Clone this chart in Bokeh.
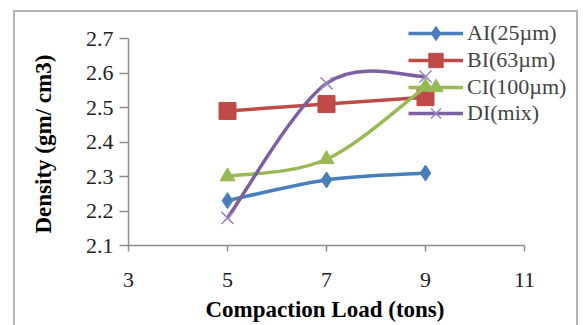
from bokeh.plotting import figure
from bokeh.models import (Range1d, FixedTicker, Legend, LegendItem, InlineStyleSheet, Title)
from bokeh.embed import file_html
from bokeh.resources import INLINE

loads = [5, 7, 9]
series_names = ["AI(25µm)", "BI(63µm)", "CI(100µm)", "DI(mix)"]
ai = [2.23, 2.29, 2.31]
bi = [2.49, 2.51, 2.53]
ci = [2.30, 2.35, 2.56]
di = [2.18, 2.57, 2.59]
x_ticks = [3, 5, 7, 9, 11]
y_ticks = [2.1, 2.2, 2.3, 2.4, 2.5, 2.6, 2.7]
x_title = "Compaction Load (tons)"
y_title = "Density (gm/ cm3)"

colors = ["#4A7EBB", "#BE4B48", "#98B954", "#7D60A0"]
markers = ["diamond", "square", "triangle", "x"]
msizes = [16, 17, 15, 17]

FONT = "Liberation Serif"

# layout (pixels): axes area x 128..524 for 3..11, y 245..38 for 2.1..2.7
W, H = 583, 325
ax_left, ax_right, ax_top, ax_bottom = 128, 524, 38, 245
px_per_x = (ax_right - ax_left) / (x_ticks[-1] - x_ticks[0])
px_per_y = (ax_bottom - ax_top) / (y_ticks[-1] - y_ticks[0])
x_end = x_ticks[-1] + (W - ax_right) / px_per_x
y_end = y_ticks[-1] + ax_top / px_per_y

p = figure(width=W, height=H, frame_width=W - ax_left, frame_height=ax_bottom,
           min_border_left=ax_left, min_border_top=0, min_border_right=0,
           min_border_bottom=H - ax_bottom,
           output_backend="svg", toolbar_location=None,
           x_range=Range1d(x_ticks[0], x_end), y_range=Range1d(y_ticks[0], y_end))
p.outline_line_color = None
p.xgrid.visible = False
p.ygrid.visible = False
p.background_fill_color = "white"
p.border_fill_color = "white"

for ax, ticks in ((p.xaxis[0], x_ticks), (p.yaxis[0], y_ticks)):
    ax.ticker = FixedTicker(ticks=ticks)
    ax.bounds = (ticks[0], ticks[-1])
    ax.axis_line_color = "#8C8C8C"
    ax.axis_line_width = 1.5
    ax.major_tick_line_color = "#8C8C8C"
    ax.major_tick_line_width = 1.5
    ax.major_tick_in = 0
    ax.minor_tick_line_color = None
    ax.major_label_text_font = FONT
    ax.major_label_text_font_size = "22px"
    ax.major_label_text_color = "#222222"

p.xaxis.major_tick_out = 6
p.yaxis.major_tick_out = 9
p.xaxis.major_label_standoff = 21
p.yaxis.major_label_standoff = 6

xt = Title(text=x_title, align="left", offset=77, text_font=FONT,
           text_font_size="23px", text_font_style="bold", text_color="black",
           standoff=11)
yt = Title(text=y_title, align="left", offset=12, text_font=FONT,
           text_font_size="23px", text_font_style="bold", text_color="black",
           standoff=53)
p.add_layout(xt, "below")
p.add_layout(yt, "left")


def bez(xs, ys):
    n = len(xs)
    out = {k: [] for k in ("x0", "y0", "x1", "y1", "cx0", "cy0", "cx1", "cy1")}
    for i in range(n - 1):
        im = max(i - 1, 0)
        ip2 = min(i + 2, n - 1)
        out["x0"].append(xs[i]); out["y0"].append(ys[i])
        out["x1"].append(xs[i + 1]); out["y1"].append(ys[i + 1])
        out["cx0"].append(xs[i] + (xs[i + 1] - xs[im]) / 6)
        out["cy0"].append(ys[i] + (ys[i + 1] - ys[im]) / 6)
        out["cx1"].append(xs[i + 1] - (xs[ip2] - xs[i]) / 6)
        out["cy1"].append(ys[i + 1] - (ys[ip2] - ys[i]) / 6)
    return out


# legend rows: centre y (pixels from top) of each entry
legend_rows = [33, 60, 87, 113]
GH = 36

for name, vals, c, m, s, row in zip(series_names, [ai, bi, ci, di], colors, markers,
                                     msizes, legend_rows):
    b = bez(loads, vals)
    br = p.bezier(line_color=c, line_width=3.5, **b)
    if m == "x":
        sc = p.scatter(loads, vals, marker=m, size=s, line_color="#9A85C0", line_width=1.5)
    else:
        sc = p.scatter(loads, vals, marker=m, size=s, fill_color=c, line_color=c)
    leg = Legend(items=[LegendItem(label=name, renderers=[br, sc])],
                 location=(280, ax_bottom - (row + GH / 2)),
                 border_line_color=None, background_fill_alpha=0,
                 label_text_font=FONT, label_text_font_size="22px",
                 glyph_width=55, glyph_height=GH, label_standoff=4,
                 spacing=0, padding=0, margin=0, label_height=22)
    p.add_layout(leg, "center")

p.stylesheets = [InlineStyleSheet(css="""
:host { position: relative; }
:host::after { content: ''; position: absolute; left: 13px; top: 10px;
  width: 565px; height: 315px; box-sizing: border-box;
  border: 2px solid #B4B4B4; border-bottom: none; pointer-events: none; }
""")]

open("out.html", "w").write(file_html(p, INLINE))
